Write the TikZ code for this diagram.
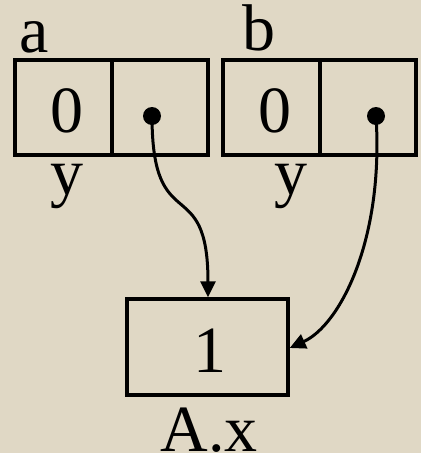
\documentclass[tikz,border=0pt]{standalone}
\usepackage{fontspec}
\setmainfont{Liberation Serif}
\usetikzlibrary{arrows.meta}
\definecolor{paper}{RGB}{224,216,197}
\begin{document}
\begin{tikzpicture}[x=1pt,y=-1pt,
  cell/.style={draw=black,line width=3.4pt,minimum width=#1,minimum height=95pt,inner sep=0pt},
  cell/.default=97pt,
  txt/.style={font=\fontsize{66}{66}\selectfont,anchor=base,inner sep=0pt},
  ptr/.style={line width=3pt,-{Triangle[length=16pt,width=15pt]}},
  dot/.style={circle,fill=black,minimum size=18pt,inner sep=0pt}]
  % background
  \fill[paper] (0,0) rectangle (421,453);
  \useasboundingbox (0,0) rectangle (421,453);
  % record a
  \node[cell] (a1) at (63.5,107.5) {};
  \node[cell=96pt] (a2) at (160,107.5) {};
  % record b
  \node[cell] (b1) at (271.5,107.5) {};
  \node[cell=96pt] (b2) at (368,107.5) {};
  % object A.x
  \node[cell=161pt,minimum height=96pt] (ax) at (207.5,347) {};
  % values and names
  \node[txt] (a0) at (67,132) {0};
  \node[txt] (b0) at (275,132) {0};
  \node[txt] (one) at (210,372) {1};
  \node[txt] (la) at (34,52) {a};
  \node[txt] (lb) at (259,50) {b};
  \node[txt] (ya) at (67,194) {y};
  \node[txt] (yb) at (291,194) {y};
  \node[txt] (lax) at (209,451) {A.x};
  % pointers
  \node[dot] (pa) at (152,116) {};
  \node[dot] (pb) at (376,116) {};
  \draw[ptr] (pa.center) .. controls (152,240) and (208,170) .. (ax.north -| 208,0);
  \draw[ptr] (pb.center) .. controls (384,240) and (340,325) .. (ax.east |- 0,348);
\end{tikzpicture}
\end{document}
